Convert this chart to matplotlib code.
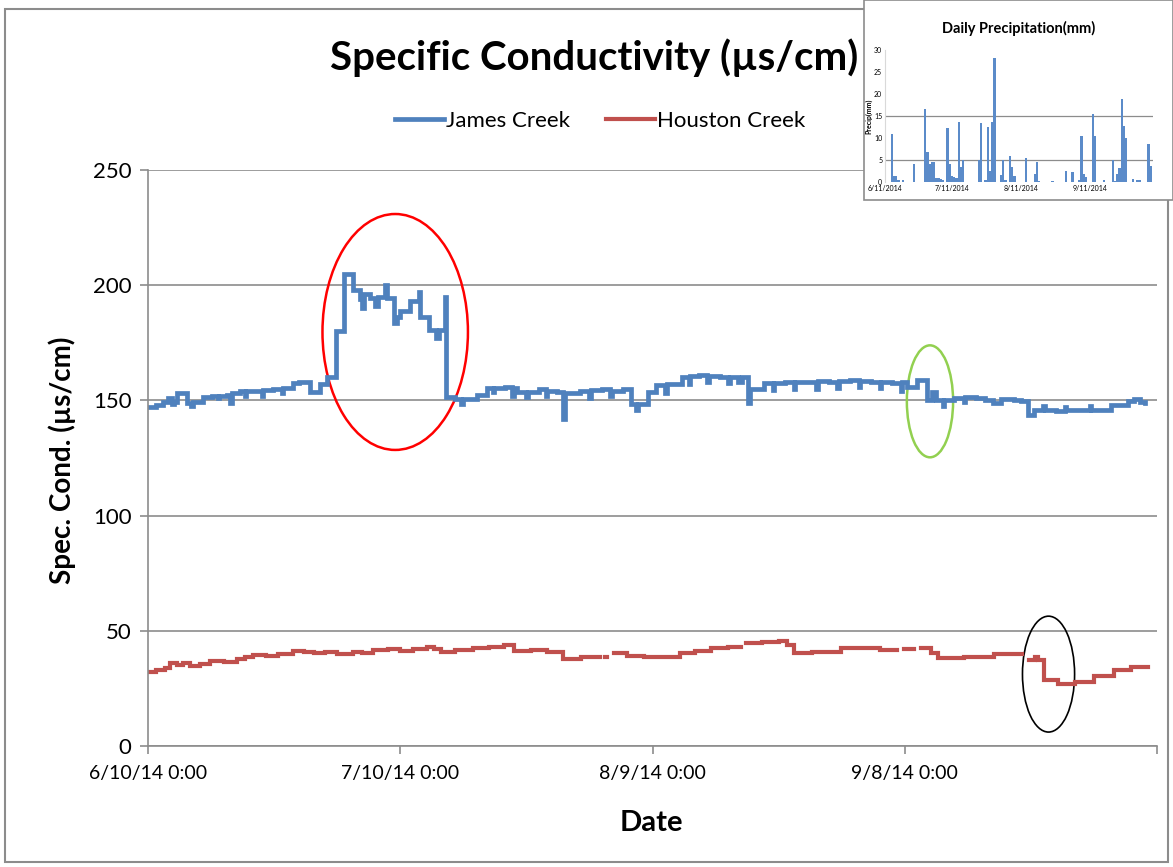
import numpy as np
import matplotlib
matplotlib.use("Agg")
import matplotlib.pyplot as plt
from matplotlib.patches import Ellipse, Rectangle

plt.rcParams['font.family'] = ['Lato', 'DejaVu Sans']

# days since 6/10/14 0:00 and conductivity (step data, short entries are spikes)
james_days = [0.0, 0.9, 1.8, 2.4, 2.9, 3.1, 3.4, 4.6, 5.1, 5.3, 6.6, 7.6, 8.3, 8.5, 9.4, 9.8,
              10.0, 11.0, 11.5, 11.7, 12.5, 13.5, 13.7, 14.9, 15.9, 16.1, 17.3, 18.0, 19.3,
              20.5, 21.3, 22.3, 23.3, 24.4, 25.2, 25.5, 25.7, 26.4, 27.0, 27.3, 28.2, 28.4,
              29.2, 29.6, 30.0, 31.2, 32.2, 32.4, 33.4, 34.3, 34.6, 35.3, 35.5, 36.5, 37.2,
              37.5, 39.1, 40.3, 41.0, 41.2, 42.5, 43.3, 43.5, 43.9, 45.0, 45.2, 46.5, 47.3,
              47.5, 48.7, 49.4, 49.6, 51.4, 52.5, 52.7, 54.0, 55.0, 55.2, 56.5, 57.4, 58.0,
              58.3, 59.5, 60.4, 61.5, 61.7, 62.8, 63.5, 64.3, 64.5, 65.5, 66.5, 66.7, 68.0,
              69.0, 69.2, 70.2, 70.6, 71.3, 71.6, 73.3, 74.3, 74.5, 75.8, 76.8, 77.0, 78.4,
              79.5, 79.7, 81.0, 82.0, 82.2, 83.5, 84.5, 84.7, 86.0, 87.0, 87.2, 88.5, 89.5,
              89.7, 90.3, 91.5, 92.7, 93.3, 93.7, 94.5, 94.7, 95.9, 97.0, 97.2, 98.5, 99.5,
              100.5, 101.5, 103.0, 103.8, 104.6, 105.4, 106.5, 106.7, 108.0, 109.0, 109.2,
              111.0, 112.0, 112.2, 113.5, 114.5, 115.5, 116.5, 117.3, 118.0, 118.6]
james_vals = [147, 148, 149.5, 151, 148.5, 149.5, 153, 149, 147.5, 149.5, 151.5, 152, 151, 152, 152.5, 149,
              153, 154, 152, 154, 154, 152, 154.5, 155, 153, 155.5, 157.5, 158, 153.5,
              157, 160, 180, 205, 198, 194, 190, 196, 194.5, 191, 195, 200, 194.5,
              183.6, 186, 189, 193, 197, 186, 180.5, 177, 180.5, 195, 151.6, 150.5, 148.5,
              150.5, 152.5, 155.3, 153.5, 155.5, 156, 152, 155.3, 153.8, 151.5, 153.8, 155, 152,
              154, 153.8, 142, 153, 154, 151, 154.5, 155, 152, 154, 155, 148.6, 146,
              148.6, 153.8, 156.7, 153, 157, 157, 160.3, 157, 160.5, 161, 158, 160.5, 160,
              157.5, 160, 158, 160, 149, 155, 157.6, 154.5, 157.6, 158, 155, 158, 158.2,
              155, 158.5, 158, 155.5, 158.5, 159, 156, 158.5, 158, 155.5, 158, 157.5, 154,
              158, 156, 159, 150, 153.8, 150, 147.5, 150, 151, 149.5, 151.5, 151, 150,
              149, 150.5, 150, 149.7, 143.7, 145.8, 147.5, 146, 145.5, 147, 145.8,
              146, 147.5, 146, 146, 147.8, 148, 149.8, 150.5, 149.5, 149]

houston_days = [0.0, 1.0, 2.0, 2.6, 3.5, 4.2, 5.0, 6.2, 7.4, 9.0, 10.6, 11.5, 12.5, 14.0, 15.5,
                17.3, 18.5, 19.7, 21.0, 22.5, 24.4, 25.5, 26.8, 28.5, 30.0, 31.5, 33.2, 34.0,
                34.8, 36.5, 38.7, 40.5, 42.3, 43.5, 45.5, 47.5, 49.4, 51.5, 53.8, 54.3, 54.6,
                55.4, 57.0, 59.0, 61.0, 63.3, 65.0, 67.0, 69.0, 70.5, 71.1, 73.0, 75.0, 76.0,
                76.8, 79.0, 82.4, 84.5, 87.1, 89.1, 89.9, 91.1, 91.9, 93.1, 93.9, 97.0, 100.6,
                104.0, 104.8, 105.5, 105.8, 106.6, 108.2, 110.2, 112.5, 114.9, 116.9, 118.9]
houston_vals = [32.3, 33, 34, 35.9, 35.0, 36, 34.9, 35.5, 37, 36.5, 37.6, 38.5, 39.5, 39, 40,
                41.4, 41, 40.3, 41, 39.8, 40.7, 40.3, 41.7, 42, 41.2, 42, 43, 42,
                40.7, 41.5, 42.4, 43, 43.8, 41.4, 41.8, 41, 37.6, 38.5, np.nan, 38.5, np.nan,
                40.3, 39, 38.5, 38.8, 40.3, 41.2, 42.4, 42.8, np.nan, 44.6, 45, 45.5, 44,
                40.3, 40.8, 42.4, 42.5, 41.7, np.nan, 42, np.nan, 42.4, 40.3, 38, 38.5, 40,
                np.nan, 37.2, 38.5, 37.2, 28.6, 26.9, 27.8, 30.3, 33, 34.5, 34.5]

x_ticks = [0, 30, 60, 90, 120]
x_labels = ['6/10/14 0:00', '7/10/14 0:00', '8/9/14 0:00', '9/8/14 0:00', '']
y_ticks = [0, 50, 100, 150, 200, 250]

# inset: daily precipitation, days since 6/11/2014
rain_days = [3, 4, 5, 6, 8, 13, 18, 19, 20, 21, 22, 23, 24, 25, 26, 28, 29, 30, 31, 32, 33, 34, 35,
             42, 43, 45, 46, 47, 48, 49, 52, 53, 54, 56, 57, 58, 63, 67, 68, 69, 75, 81, 84, 87,
             88, 89, 90, 93, 94, 98, 102, 103, 104, 105, 106, 107, 108, 111, 113, 114, 118, 119]
rain_mm = [10.9, 1.3, 1.3, 0.4, 0.4, 4.2, 16.5, 6.9, 4.2, 4.6, 4.6, 0.9, 0.9, 0.6, 0.4, 12.3, 4.0,
           1.3, 1.2, 0.8, 13.6, 3.5, 5.0, 5.0, 13.5, 0.4, 12.5, 2.5, 13.6, 28.2, 1.5, 5.0, 0.4,
           6.0, 3.5, 1.3, 5.5, 1.9, 4.5, 0.2, 0.2, 2.5, 2.2, 0.4, 10.5, 1.9, 1.2, 15.5, 10.5,
           0.4, 5.0, 0.2, 1.9, 3.1, 18.8, 12.8, 10.0, 0.7, 0.4, 0.4, 8.7, 3.7]
rain_ticks = [0, 30, 61, 92]
rain_labels = ['6/11/2014', '7/11/2014', '8/11/2014', '9/11/2014']

W, H = 1173, 867
fig = plt.figure(figsize=(W / 100, H / 100), dpi=100)

# chart frame
fig.patches.append(Rectangle((5 / W, 1 - 862 / H), 1163 / W, 853 / H, transform=fig.transFigure,
                             fill=False, edgecolor='#8c8c8c', lw=1.5, zorder=0))

ax = fig.add_axes([148 / W, 1 - 746 / H, (1157 - 148) / W, (746 - 170) / H])
ax.step(james_days, james_vals, where='post', color='#4F81BD', lw=3.4, label='James Creek',
        solid_joinstyle='miter')
ax.step(houston_days, houston_vals, where='post', color='#C0504D', lw=3.0, label='Houston Creek',
        solid_joinstyle='miter')

ax.set_xlim(0, 120)
ax.set_ylim(0, 250)
ax.set_xticks(x_ticks)
ax.set_xticklabels(x_labels)
ax.set_yticks(y_ticks)
ax.yaxis.grid(True, color='#8c8c8c', lw=1.2)
ax.set_axisbelow(True)
for s in ['top', 'right']:
    ax.spines[s].set_visible(False)
for s in ['left', 'bottom']:
    ax.spines[s].set_color('#8c8c8c')
    ax.spines[s].set_linewidth(1.2)
ax.tick_params(axis='both', colors='#8c8c8c', labelcolor='black', length=6, width=1.2)
ax.tick_params(axis='x', pad=8, labelsize=14)
ax.tick_params(axis='y', pad=6, labelsize=16)

# highlighted regions
ax.add_patch(Ellipse((29.4, 179.7), 17.3, 102.4, fill=False, edgecolor='red', lw=1.8))
ax.add_patch(Ellipse((93.0, 149.6), 5.5, 48.6, fill=False, edgecolor='#92D050', lw=1.8))
ax.add_patch(Ellipse((107.1, 31.2), 6.2, 50.3, fill=False, edgecolor='black', lw=1.2))

fig.text(594 / W, 1 - 58 / H, 'Specific Conductivity (\u00b5s/cm)', ha='center', va='center',
         fontsize=29, fontweight='bold')
fig.text(62 / W, 1 - 460 / H, 'Spec. Cond. (\u00b5s/cm)', ha='center', va='center',
         rotation=90, fontsize=20, fontweight='bold')
fig.text(651 / W, 1 - 823 / H, 'Date', ha='center', va='center', fontsize=21, fontweight='bold')

ax.legend(loc='center', bbox_to_anchor=(600 / W, 1 - 121 / H), bbox_transform=fig.transFigure,
          ncol=2, frameon=False, fontsize=16, handlelength=2.2, columnspacing=1.6,
          handletextpad=0.1)

# inset precipitation chart
fig.patches.append(Rectangle((864 / W, 1 - 200 / H), 309 / W, 200 / H, transform=fig.transFigure,
                             facecolor='white', edgecolor='#8c8c8c', lw=1.2, zorder=5))
ins = fig.add_axes([885 / W, 1 - 182 / H, 268 / W, 132 / H], zorder=6)
ins.bar(rain_days, rain_mm, width=1.0, color='#5B8BC9')
ins.set_xlim(0, 120)
ins.set_ylim(0, 30)
ins.set_yticks([0, 5, 10, 15, 20, 25, 30])
ins.set_xticks(rain_ticks)
ins.set_xticklabels(rain_labels)
for g in [5, 15]:
    ins.axhline(g, color='#8c8c8c', lw=0.9, zorder=0)
for s in ['top', 'right', 'bottom']:
    ins.spines[s].set_visible(False)
ins.spines['left'].set_color('#d9d9d9')
ins.tick_params(axis='both', labelsize=5, length=0, pad=2)
ins.set_ylabel('Precip(mm)', fontsize=5, fontweight='bold', labelpad=1)
ins.set_title('Daily Precipitation(mm)', fontsize=10.5, fontweight='bold', pad=12)

fig.savefig('out.png', dpi=100)
